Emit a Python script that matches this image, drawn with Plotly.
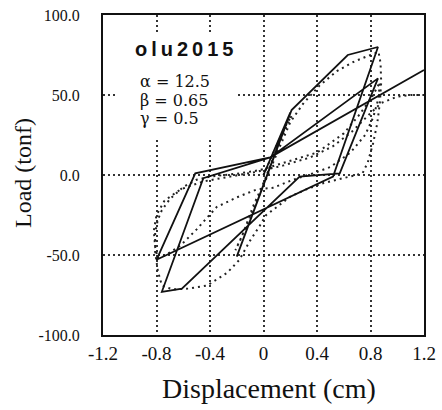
import plotly.graph_objects as go

# Analytical model (solid) – piecewise-linear hysteresis path
model_disp = [0.0, 0.20, -0.20, 0.21, 0.63, 0.856, 0.52, -0.80, -0.51, 0.05,
              0.856, 0.57, 0.27, -0.61, -0.76, -0.45, 0.05, 1.20]
model_load = [0.0, 39.0, -51.0, 40.6, 75.0, 80.0, -1.0, -53.0, 1.0, 11.0,
              60.4, 1.0, -1.0, -71.0, -73.0, -2.0, 11.0, 65.6]

# Test record (dotted)
test_disp = [0.0, 0.08, 0.16, 0.21, 0.17, 0.08, 0.0, -0.08, -0.15, -0.21,
             -0.17, -0.10, -0.03, 0.05, 0.12, 0.20,
             0.30, 0.42, 0.55, 0.68, 0.80, 0.86,
             0.875, 0.88, 0.87, 0.85, 0.82, 0.78, 0.74, 0.60, 0.45, 0.32, 0.20,
             0.10, 0.02, -0.03, -0.10, -0.18, -0.27, -0.42, -0.56, -0.68, -0.76,
             -0.79, -0.81, -0.81, -0.79, -0.76, -0.70, -0.60, -0.50, -0.40, -0.18,
             -0.03, 0.15, 0.40, 0.60, 0.72, 0.82, 0.87,
             0.86, 0.82, 0.76, 0.65, 0.50, 0.37, 0.22, 0.07, -0.05, -0.20,
             -0.35, -0.50, -0.62, -0.73, -0.79,
             -0.81, -0.82, -0.80, -0.74, -0.62, -0.45, -0.25, -0.05, 0.15,
             0.35, 0.52, 0.66, 0.78, 0.88, 1.00, 1.10, 1.20]
test_load = [0.0, 15.0, 30.0, 37.0, 30.0, 12.0, -5.0, -20.0, -36.0, -47.0,
             -40.0, -26.0, -12.0, 3.0, 18.0, 33.0,
             45.0, 56.0, 65.0, 71.0, 75.0, 77.0,
             70.0, 58.0, 45.0, 32.0, 20.0, 8.0, 1.0, -2.0, -5.0, -9.0, -13.5,
             -20.0, -25.0, -32.0, -41.0, -53.0, -61.0, -69.0, -71.0, -71.5, -69.0,
             -60.0, -48.0, -36.0, -28.0, -22.0, -15.0, -7.5, -3.0, -1.0, 1.0,
             3.0, 7.5, 14.0, 26.0, 38.0, 50.0, 58.0,
             48.0, 36.0, 25.0, 14.0, 5.0, 1.0, -3.0, -8.0, -9.0, -14.0,
             -20.0, -34.0, -44.0, -50.0, -52.0,
             -45.0, -35.0, -25.0, -16.0, -9.0, -4.0, -1.0, 2.0, 6.0,
             11.0, 18.0, 27.0, 37.0, 45.0, 49.0, 50.0, 50.0]

x_ticks = [-1.2, -0.8, -0.4, 0.0, 0.4, 0.8, 1.2]
x_tick_text = ["-1.2", "-0.8", "-0.4", "0", "0.4", "0.8", "1.2"]
y_ticks = [-100, -50, 0, 50, 100]
y_tick_text = ["-100.0", "-50.0", "0.0", "50.0", "100.0"]

label_name = "olu2015"
param_lines = ["\u03b1 = 12.5", "\u03b2 = 0.65", "\u03b3 = 0.5"]

serif = "Liberation Serif, Times New Roman, serif"

fig = go.Figure()
fig.add_trace(go.Scatter(x=test_disp, y=test_load, mode="lines",
                         line=dict(color="#222", width=2, dash="2px,4px"),
                         hoverinfo="skip"))
fig.add_trace(go.Scatter(x=model_disp, y=model_load, mode="lines",
                         line=dict(color="#111", width=1.8),
                         hoverinfo="skip"))

# white panel behind the parameter block (hides the grid there)
fig.add_shape(type="rect", xref="x", yref="y",
              x0=-1.11, x1=-0.2, y0=22, y1=89,
              fillcolor="white", line=dict(width=0), layer="between")

fig.add_annotation(xref="paper", yref="paper", x=0.0935, y=(335 - 49) / 320,
                   xanchor="left", yanchor="middle", showarrow=False,
                   text='<b><span style="letter-spacing:4px">' + label_name + '</span></b>',
                   font=dict(family="Liberation Sans, Arial, sans-serif", size=20, color="#111"))
for i, line in enumerate(param_lines):
    fig.add_annotation(xref="paper", yref="paper", x=0.109, y=(335 - (81 + 19 * i)) / 320,
                       xanchor="left", yanchor="middle", showarrow=False,
                       text=line,
                       font=dict(family="DejaVu Serif, serif", size=16, color="#111"))

fig.add_annotation(xref="paper", yref="paper", x=(269 - 103) / 321, y=(335 - 388) / 320,
                   xanchor="center", yanchor="middle", showarrow=False,
                   text="Displacement (cm)", font=dict(family=serif, size=28, color="#111"))
fig.add_annotation(xref="paper", yref="paper", x=(23 - 103) / 321, y=(335 - 173) / 320,
                   xanchor="center", yanchor="middle", showarrow=False, textangle=-90,
                   text="Load (tonf)", font=dict(family=serif, size=24, color="#111"))

grid_style = dict(showgrid=True, gridcolor="#333", gridwidth=1.5, griddash="2px,3px",
                  zeroline=False, showline=True, linecolor="#111", linewidth=2,
                  mirror=True, ticks="")

fig.update_xaxes(range=[-1.2, 1.2], tickvals=x_ticks, ticktext=x_tick_text,
                 tickfont=dict(family=serif, size=19, color="#111"), **grid_style)
fig.update_yaxes(range=[-100, 100], tickvals=y_ticks, ticktext=y_tick_text,
                 tickfont=dict(family=serif, size=16, color="#111"),
                 ticklabelstandoff=18, **grid_style)

fig.update_layout(width=442, height=410, showlegend=False,
                  margin=dict(l=103, r=18, t=15, b=75, autoexpand=False),
                  paper_bgcolor="white", plot_bgcolor="white")

fig.write_html("out.html")
